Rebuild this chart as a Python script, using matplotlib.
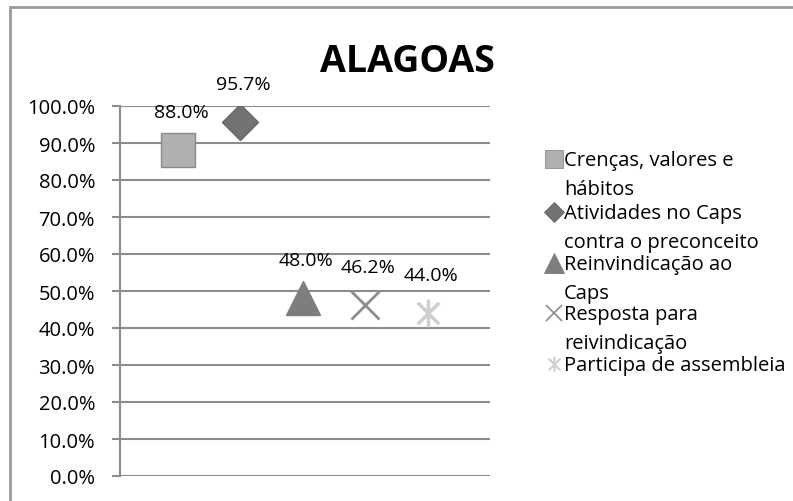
import matplotlib.pyplot as plt
import numpy as np
from matplotlib.lines import Line2D
from matplotlib.patches import Rectangle
from matplotlib.path import Path

plt.rcParams['font.family'] = ['Open Sans', 'DejaVu Sans']

# data
series = ["Crenças, valores e\nhábitos",
          "Atividades no Caps\ncontra o preconceito",
          "Reinvindicação ao\nCaps",
          "Resposta para\nreivindicação",
          "Participa de assembleia"]
values = [88.0, 95.7, 48.0, 46.2, 44.0]
positions = [1, 2, 3, 4, 5]
yticks = [0, 10, 20, 30, 40, 50, 60, 70, 80, 90, 100]

# asterisk marker: x plus a vertical bar
star = Path([(-1, -1), (1, 1), (-1, 1), (1, -1), (0, -1.3), (0, 1.3)],
            [Path.MOVETO, Path.LINETO, Path.MOVETO, Path.LINETO, Path.MOVETO, Path.LINETO])

styles = [
    dict(marker="s", ms=24, mfc="#b0b0b0", mec="#8a8a8a", mew=1),
    dict(marker="D", ms=18, mfc="#727272", mec="#666666", mew=1),
    dict(marker="^", ms=25, mfc="#7d7d7d", mec="#7d7d7d", mew=1),
    dict(marker="x", ms=20, mfc="none", mec="#8c8c8c", mew=2),
    dict(marker=star, ms=20, mfc="none", mec="#cfcfcf", mew=2.5),
]

fig = plt.figure(figsize=(7.93, 5.02), dpi=100)
ax = fig.add_axes([120 / 793, 1 - 477 / 502, 370 / 793, 370 / 502])

for x, v, st in zip(positions, values, styles):
    ax.plot([x], [v], linestyle="none", **st)
    ax.annotate(f"{v:.1f}%", (x + 0.05, v), xytext=(0, 21), textcoords="offset points",
                ha="center", va="bottom", fontsize=14, color="black")

ax.set_xlim(0.07, 6.0)
ax.set_ylim(0, 100)
ax.set_yticks(yticks)
ax.set_yticklabels([f"{t:.1f}%" for t in yticks], fontsize=14.5)
ax.set_xticks([])
ax.grid(axis="y", color="#8c8c8c", linewidth=1.5)
ax.set_axisbelow(True)
for side in ["top", "right", "bottom"]:
    ax.spines[side].set_visible(False)
ax.spines["left"].set_color("#8c8c8c")
ax.spines["left"].set_linewidth(1.5)
ax.tick_params(axis="y", length=6, width=1.5, color="#8c8c8c", pad=12)

fig.text(407 / 793, 1 - 62 / 502, "ALAGOAS", fontsize=27, fontweight="bold",
         ha="center", va="center")

# outer chart frame
fig.add_artist(Rectangle((10 / 793, -0.1), 1.1, 1 - 8 / 502 + 0.1,
                         transform=fig.transFigure, fill=False,
                         edgecolor="#9a9a9a", linewidth=2))

# legend, drawn by hand so the marker sits on the first line
legend_y = [160, 213, 264, 314, 365]
for y, lab, st in zip(legend_y, series, styles):
    st2 = dict(st)
    st2["ms"] = st["ms"] * 0.55
    st2["mew"] = st["mew"] * 0.6
    fig.add_artist(Line2D([554 / 793], [1 - y / 502], transform=fig.transFigure,
                          linestyle="none", **st2))
    fig.text(564 / 793, 1 - (y - 9) / 502, lab, fontsize=14.5, ha="left", va="top",
             linespacing=1.58)

fig.savefig("out.png", dpi=100)
